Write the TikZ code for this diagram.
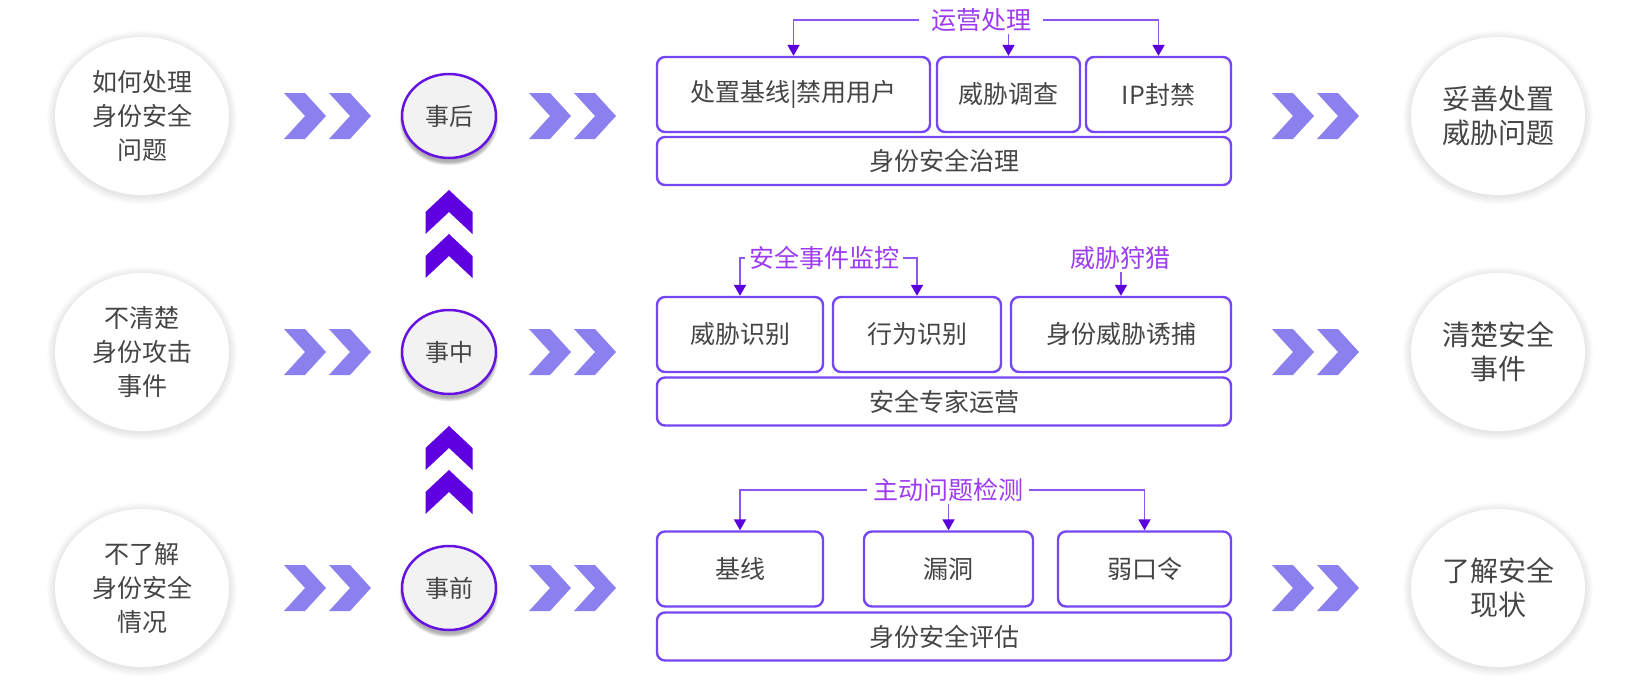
\documentclass[tikz,border=0pt]{standalone}
\usepackage{fontspec}
\setmainfont{Noto Sans CJK SC}
\usetikzlibrary{arrows.meta,shapes.geometric}
\definecolor{txt}{HTML}{454545}
\definecolor{boxb}{HTML}{7646F2}
\definecolor{lbl}{HTML}{9D3AF2}
\definecolor{lnk}{HTML}{8E55F0}
\definecolor{tipc}{HTML}{5A00DC}
\definecolor{chevh}{HTML}{8C80EE}
\definecolor{chevv}{HTML}{5E00E0}
\definecolor{stepb}{HTML}{6612E0}
\definecolor{stepf}{HTML}{F2F2F2}
\newcommand\myfs[2]{\fontsize{#1}{#2}\selectfont}
\tikzset{
  boxn/.style={draw=boxb, line width=2.4pt, rounded corners=8pt, fill=white, text=txt,
    font=\myfs{25}{30}, inner sep=0pt, minimum height=75pt},
  barn/.style={boxn, minimum width=574pt, minimum height=48pt},
  lab/.style={text=lbl, font=\myfs{25}{30}, inner xsep=10pt, inner ysep=2pt},
  link/.style={draw=lnk, line width=1.8pt, -{Triangle[width=12pt,length=11pt,color=tipc]}},
  bigc/.style={ellipse, minimum width=174pt, minimum height=158pt, fill=white, inner sep=0pt,
    align=center, text=txt},
  stepc/.style={ellipse, minimum width=94pt, minimum height=84pt, draw=stepb, line width=2.5pt,
    fill=stepf, text=txt, font=\myfs{24}{28}, inner sep=0pt},
  hchev/.pic={\fill[chevh] (-21,-23) -- (0,-23) -- (21,0) -- (0,23) -- (-21,23) -- (0,0) -- cycle;},
  vchev/.pic={\fill[chevv] (0,0) -- (23.5,22) -- (23.5,44) -- (0,22) -- (-23.5,44) -- (-23.5,22) -- cycle;}
}
\begin{document}
\begin{tikzpicture}[x=1pt,y=-1pt]
\useasboundingbox (0,0) rectangle (1640,680);
% halos of big circles
\foreach \cx/\cy in {142/116,142/352,142/588,1498/116,1498/352,1498/588}{
  \foreach \r in {1,...,8}{
    \fill[black,opacity=0.013] (\cx,\cy+1.5) ellipse ({87pt+\r pt} and {79pt+\r pt});
  }
}
% shadows of step circles
\foreach \cy in {116,352,588}{
  \foreach \r in {0,...,5}{
    \fill[black,opacity=0.06] (449,\cy+5) ellipse ({46pt+\r pt*0.7} and {41pt+\r pt*0.7});
  }
}
% big circles
\node[bigc, font=\myfs{25}{34}] (q1) at (142,116) {如何处理\\身份安全\\问题};
\node[bigc, font=\myfs{25}{34}] (q2) at (142,352) {不清楚\\身份攻击\\事件};
\node[bigc, font=\myfs{25}{34}] (q3) at (142,588) {不了解\\身份安全\\情况};
\node[bigc, font=\myfs{28}{34}] (r1) at (1498,116) {妥善处置\\威胁问题};
\node[bigc, font=\myfs{28}{34}] (r2) at (1498,352) {清楚安全\\事件};
\node[bigc, font=\myfs{28}{34}] (r3) at (1498,588) {了解安全\\现状};
% step circles
\node[stepc] (s1) at (449,116) {事后};
\node[stepc] (s2) at (449,352) {事中};
\node[stepc] (s3) at (449,588) {事前};
% horizontal chevrons
\foreach \cy in {116,352,588}{
  \foreach \cx in {305,350,550,595,1293,1338}{
    \pic at (\cx,\cy) {hchev};
  }
}
% vertical chevrons
\foreach \ay in {190,234,426,470}{
  \pic at (449,\ay) {vchev};
}
% top row
\node[boxn, minimum width=273pt] (b11) at (793.5,94.5) {处置基线|禁用用户};
\node[boxn, minimum width=143pt] (b12) at (1008.5,94.5) {威胁调查};
\node[boxn, minimum width=145pt] (b13) at (1158.5,94.5) {IP封禁};
\node[barn] (g1) at (944,161) {身份安全治理};
% middle row
\node[boxn, minimum width=166pt] (b21) at (740,334.5) {威胁识别};
\node[boxn, minimum width=168pt] (b22) at (917,334.5) {行为识别};
\node[boxn, minimum width=220pt] (b23) at (1121,334.5) {身份威胁诱捕};
\node[barn] (g2) at (944,401.5) {安全专家运营};
% bottom row
\node[boxn, minimum width=166pt] (b31) at (740,569) {基线};
\node[boxn, minimum width=169pt] (b32) at (948.5,569) {漏洞};
\node[boxn, minimum width=173pt] (b33) at (1144.5,569) {弱口令};
\node[barn] (g3) at (944,636.5) {身份安全评估};
% labels
\node[lab, inner xsep=12pt] (L1) at (981,20) {运营处理};
\node[lab, inner xsep=4pt] (L2) at (824,258) {安全事件监控};
\node[lab] (L3) at (1120,258) {威胁狩猎};
\node[lab, inner xsep=6pt] (L4) at (948,490) {主动问题检测};
% connectors
\draw[link] (L1.west) -| (b11.north);
\draw[link] (L1.east) -| (b13.north);
\draw[link] (b12.north |- L1.south) -- (b12.north);
\draw[link] (L2.west) -| (b21.north);
\draw[link] (L2.east) -| (b22.north);
\draw[link] (b23.north |- L3.south) -- (b23.north);
\draw[link] (L4.west) -| (b31.north);
\draw[link] (L4.east) -| (b33.north);
\draw[link] (b32.north |- L4.south) -- (b32.north);
\end{tikzpicture}
\end{document}
